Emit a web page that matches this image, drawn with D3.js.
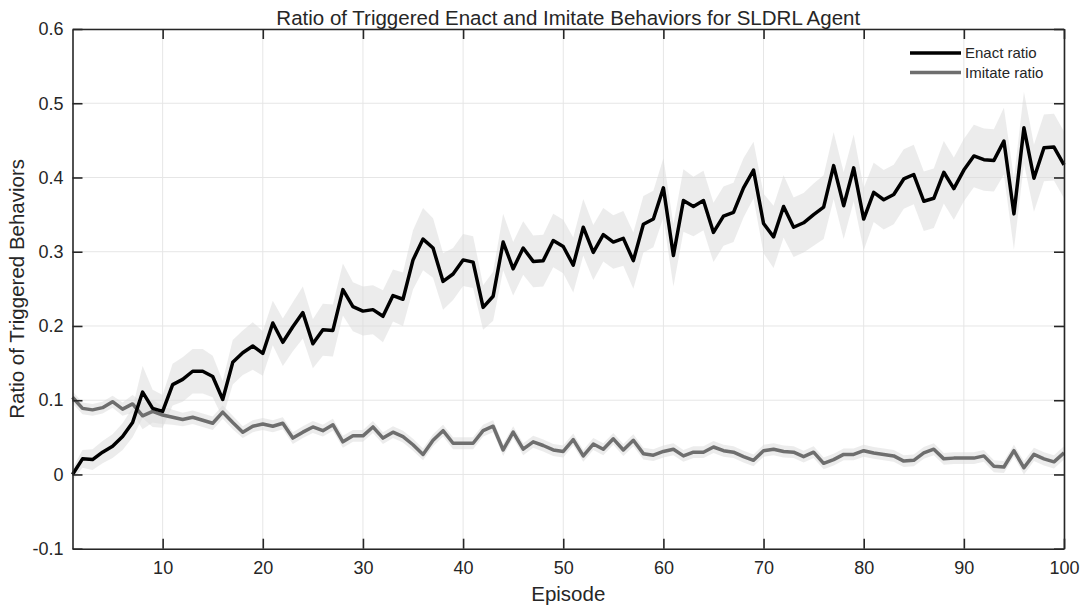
<!DOCTYPE html>
<html>
<head>
<meta charset="utf-8">
<script src="https://cdn.jsdelivr.net/npm/d3@7"></script>
<style>
  body { margin: 0; background: #fff; }
  text { font-family: "Liberation Sans", Arial, Helvetica, sans-serif; fill: #262626; }
</style>
</head>
<body>
<script>

// values
var enactRatio = [0.0, 0.021, 0.02, 0.03, 0.038, 0.051, 0.07, 0.111, 0.089, 0.085,
  0.121, 0.128, 0.139, 0.139, 0.132, 0.101, 0.151, 0.164, 0.173, 0.163,
  0.204, 0.178, 0.199, 0.218, 0.176, 0.195, 0.194, 0.249, 0.226, 0.22,
  0.222, 0.213, 0.241, 0.236, 0.289, 0.317, 0.305, 0.26, 0.27, 0.289,
  0.286, 0.225, 0.24, 0.313, 0.277, 0.305, 0.287, 0.288, 0.315, 0.307,
  0.282, 0.333, 0.299, 0.323, 0.313, 0.318, 0.288, 0.337, 0.344, 0.386,
  0.295, 0.369, 0.361, 0.369, 0.326, 0.348, 0.353, 0.386, 0.41, 0.338,
  0.32, 0.361, 0.333, 0.339, 0.35, 0.36, 0.416, 0.362, 0.413, 0.344,
  0.38, 0.37, 0.377, 0.398, 0.404, 0.368, 0.372, 0.407, 0.385, 0.41,
  0.429, 0.424, 0.423, 0.449, 0.351, 0.467, 0.399, 0.44, 0.441, 0.417];

var imitateRatio = [0.104, 0.089, 0.087, 0.09, 0.098, 0.088, 0.095, 0.079, 0.085, 0.08,
  0.077, 0.074, 0.077, 0.073, 0.069, 0.084, 0.07, 0.057, 0.065, 0.068,
  0.065, 0.069, 0.049, 0.057, 0.064, 0.059, 0.067, 0.044, 0.052, 0.052,
  0.064, 0.049, 0.057, 0.051, 0.04, 0.027, 0.046, 0.059, 0.042, 0.042,
  0.042, 0.059, 0.065, 0.033, 0.057, 0.034, 0.044, 0.039, 0.033, 0.031,
  0.047, 0.025, 0.041, 0.034, 0.048, 0.033, 0.046, 0.028, 0.026, 0.031,
  0.034, 0.025, 0.03, 0.03, 0.037, 0.032, 0.03, 0.024, 0.019, 0.032,
  0.034, 0.031, 0.03, 0.024, 0.03, 0.015, 0.02, 0.027, 0.027, 0.032,
  0.029, 0.027, 0.025, 0.018, 0.019, 0.029, 0.034, 0.021, 0.022, 0.022,
  0.022, 0.025, 0.011, 0.01, 0.032, 0.009, 0.027, 0.021, 0.017, 0.029];

// half width of the shaded band round each line
var enactSpread = [0.008, 0.012, 0.014, 0.015, 0.016, 0.018, 0.02, 0.035, 0.025, 0.022,
  0.028, 0.03, 0.03, 0.03, 0.028, 0.025, 0.03, 0.03, 0.032, 0.03,
  0.03, 0.032, 0.033, 0.035, 0.033, 0.035, 0.035, 0.035, 0.033, 0.033,
  0.033, 0.035, 0.035, 0.036, 0.04, 0.042, 0.04, 0.038, 0.035, 0.035,
  0.035, 0.03, 0.033, 0.038, 0.036, 0.036, 0.035, 0.035, 0.036, 0.036,
  0.037, 0.038, 0.037, 0.036, 0.036, 0.037, 0.038, 0.038, 0.038, 0.04,
  0.042, 0.042, 0.04, 0.04, 0.04, 0.04, 0.04, 0.04, 0.038, 0.04,
  0.042, 0.042, 0.04, 0.04, 0.042, 0.043, 0.045, 0.045, 0.045, 0.042,
  0.04, 0.04, 0.04, 0.04, 0.04, 0.04, 0.04, 0.042, 0.042, 0.042,
  0.042, 0.042, 0.042, 0.045, 0.048, 0.048, 0.045, 0.045, 0.045, 0.045];

var imitateSpread = [0.008, 0.008, 0.008, 0.008, 0.008, 0.009, 0.012, 0.018, 0.015, 0.012,
  0.01, 0.009, 0.009, 0.009, 0.009, 0.009, 0.009, 0.008, 0.008, 0.008,
  0.008, 0.008, 0.008, 0.008, 0.008, 0.008, 0.008, 0.008, 0.008, 0.008,
  0.008, 0.008, 0.008, 0.008, 0.008, 0.008, 0.008, 0.008, 0.008, 0.008,
  0.008, 0.008, 0.008, 0.008, 0.008, 0.008, 0.008, 0.008, 0.008, 0.008,
  0.008, 0.008, 0.008, 0.008, 0.008, 0.008, 0.008, 0.008, 0.008, 0.008,
  0.008, 0.008, 0.008, 0.008, 0.008, 0.008, 0.008, 0.008, 0.008, 0.008,
  0.008, 0.008, 0.008, 0.008, 0.008, 0.008, 0.008, 0.008, 0.008, 0.008,
  0.008, 0.008, 0.008, 0.008, 0.008, 0.008, 0.008, 0.008, 0.008, 0.008,
  0.008, 0.008, 0.008, 0.008, 0.008, 0.009, 0.009, 0.009, 0.009, 0.009];

var xTicks = [10, 20, 30, 40, 50, 60, 70, 80, 90, 100];
var yTicks = [-0.1, 0, 0.1, 0.2, 0.3, 0.4, 0.5, 0.6];
var seriesNames = ["Enact ratio", "Imitate ratio"];

var width = 1087, height = 613;
// note: can't call it "top", window.top is read only
var plotLeft = 72.5, plotRight = 1064, plotTop = 29, plotBottom = 548.7;

var svg = d3.select("body").append("svg")
  .attr("width", width)
  .attr("height", height);

var x = d3.scaleLinear().domain([1, 100]).range([plotLeft, plotRight]);
var y = d3.scaleLinear().domain([-0.1, 0.6]).range([plotBottom, plotTop]);

//grid first so everything sits over it
svg.append("g").selectAll("line")
  .data(xTicks)
  .enter().append("line")
  .attr("x1", function(d){ return x(d); })
  .attr("x2", function(d){ return x(d); })
  .attr("y1", plotTop).attr("y2", plotBottom)
  .attr("stroke", "#e6e6e6").attr("stroke-width", 1);

svg.append("g").selectAll("line")
  .data(yTicks)
  .enter().append("line")
  .attr("x1", plotLeft).attr("x2", plotRight)
  .attr("y1", function(d){ return y(d); })
  .attr("y2", function(d){ return y(d); })
  .attr("stroke", "#e6e6e6").attr("stroke-width", 1);

function band(values, spread) {
  return d3.area()
    .x(function(d, i){ return x(i + 1); })
    .y0(function(d, i){ return y(values[i] - spread[i]); })
    .y1(function(d, i){ return y(values[i] + spread[i]); })(values);
}

function line(values) {
  return d3.line()
    .x(function(d, i){ return x(i + 1); })
    .y(function(d){ return y(d); })(values);
}

svg.append("path").attr("d", band(enactRatio, enactSpread))
  .attr("fill", "#d9d9d9").attr("fill-opacity", 0.5);
svg.append("path").attr("d", band(imitateRatio, imitateSpread))
  .attr("fill", "#d9d9d9").attr("fill-opacity", 0.5);

svg.append("path").attr("d", line(imitateRatio))
  .attr("fill", "none").attr("stroke", "#6e6e6e")
  .attr("stroke-width", 3.5).attr("stroke-linejoin", "round");
svg.append("path").attr("d", line(enactRatio))
  .attr("fill", "none").attr("stroke", "#000")
  .attr("stroke-width", 3.5).attr("stroke-linejoin", "round");

// box axes, ticks point inward on all four sides
var axisColor = "#262626";
var bottomAxis = d3.axisBottom(x).tickValues(xTicks).tickSizeInner(-10).tickSizeOuter(0).tickPadding(13);
var topAxis = d3.axisTop(x).tickValues(xTicks).tickSizeInner(-10).tickSizeOuter(0).tickFormat("");
var leftAxis = d3.axisLeft(y).tickValues(yTicks).tickSizeInner(-10).tickSizeOuter(0).tickPadding(9)
  .tickFormat(function(d){ return String(+d.toFixed(1)); });
var rightAxis = d3.axisRight(y).tickValues(yTicks).tickSizeInner(-10).tickSizeOuter(0).tickFormat("");

function styleAxis(g) {
  g.selectAll("path").attr("stroke", axisColor).attr("stroke-width", 1.6);
  g.selectAll("line").attr("stroke", axisColor).attr("stroke-width", 1.6);
  g.selectAll("text").attr("fill", axisColor)
    .style("font-family", "'Liberation Sans', Arial, sans-serif")
    .style("font-size", "18px");
}

svg.append("g").attr("transform", "translate(0," + plotBottom + ")").call(bottomAxis).call(styleAxis);
svg.append("g").attr("transform", "translate(0," + plotTop + ")").call(topAxis).call(styleAxis);
svg.append("g").attr("transform", "translate(" + plotLeft + ",0)").call(leftAxis).call(styleAxis);
svg.append("g").attr("transform", "translate(" + plotRight + ",0)").call(rightAxis).call(styleAxis);

// title and axis labels
svg.append("text")
  .attr("x", (plotLeft + plotRight) / 2).attr("y", 25)
  .attr("text-anchor", "middle")
  .style("font-size", "20.5px")
  .text("Ratio of Triggered Enact and Imitate Behaviors for SLDRL Agent");

svg.append("text")
  .attr("x", (plotLeft + plotRight) / 2).attr("y", 601)
  .attr("text-anchor", "middle")
  .style("font-size", "20.5px")
  .text("Episode");

svg.append("text")
  .attr("transform", "translate(24," + ((plotTop + plotBottom) / 2) + ") rotate(-90)")
  .attr("text-anchor", "middle")
  .style("font-size", "20.5px")
  .text("Ratio of Triggered Behaviors");

//legend, top right inside the box
var legendColors = ["#000", "#6e6e6e"];
var legend = svg.append("g").selectAll("g")
  .data(seriesNames)
  .enter().append("g")
  .attr("transform", function(d, i){ return "translate(910," + (53 + i * 19.5) + ")"; });

legend.append("line")
  .attr("x1", 0).attr("x2", 51)
  .attr("stroke", function(d, i){ return legendColors[i]; })
  .attr("stroke-width", 3.5);

legend.append("text")
  .attr("x", 55).attr("dy", "0.35em")
  .style("font-size", "15px")
  .text(function(d){ return d; });

</script>
</body>
</html>
